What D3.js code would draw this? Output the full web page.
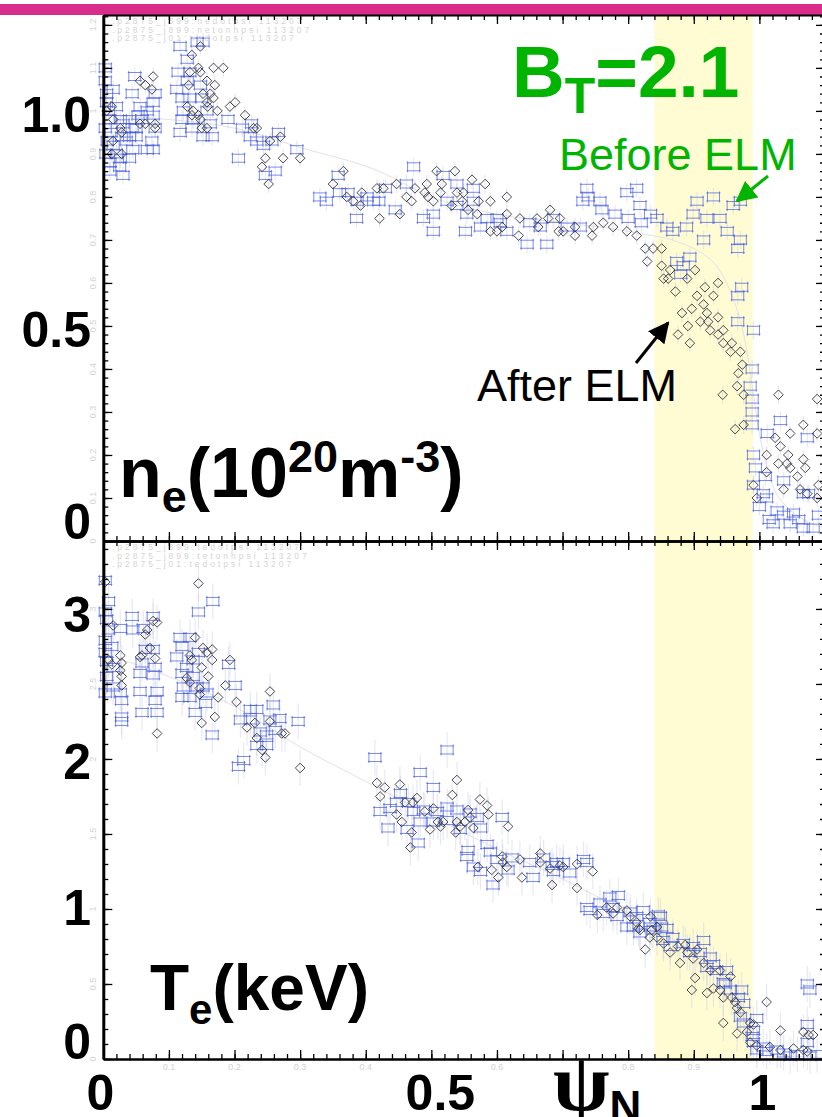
<!DOCTYPE html>
<html>
<head>
<meta charset="utf-8">
<script src="https://cdn.jsdelivr.net/npm/d3@7"></script>
<style>
  body { margin: 0; background: #fff; }
  svg { display: block; }
  text { font-family: "Liberation Sans", Arial, sans-serif; }
</style>
</head>
<body>
<div id="chart"></div>
<script>
// ---- data (psi_N, value) ----
const neBlue = [
  [0.003,1.07],[0.005,1.04],[0.015,1.05],[0.02,1.01],[0.005,1.02],[0.008,1.0],[0.01,0.98],[0.003,0.96],[0.012,0.95],[0.006,0.93],
  [0.015,0.92],[0.02,0.9],[0.01,0.88],[0.025,0.87],[0.03,0.85],[0.035,0.93],[0.04,0.94],[0.045,0.91],[0.04,0.89],[0.03,0.97],
  [0.05,0.96],[0.05,0.94],[0.04,0.98],[0.026,0.98],[0.028,0.94],[0.026,0.89],[0.01,0.86],[0.003,1.1],[0.004,0.9],
  [0.048,1.08],[0.044,1.04],[0.056,1.01],[0.053,0.99],[0.044,0.96],[0.076,1.02],[0.076,0.99],[0.079,0.96],[0.067,1.0],[0.074,0.93],
  [0.067,0.91],[0.076,0.91],[0.079,1.04],[0.059,0.98],
  [0.117,1.15],[0.143,1.16],[0.152,1.16],[0.128,1.12],[0.114,1.09],[0.132,1.09],[0.112,1.05],[0.128,1.07],[0.148,1.06],[0.12,1.03],
  [0.132,1.03],[0.122,1.0],[0.12,0.98],[0.137,0.98],[0.117,0.95],[0.135,0.96],[0.152,0.94],[0.166,0.94],[0.163,0.97],[0.158,1.0],[0.15,1.03],
  [0.19,0.98],[0.212,0.96],[0.224,0.94],[0.226,0.97],[0.234,0.93],[0.244,0.92],[0.267,0.95],[0.257,0.93],[0.206,0.89],[0.247,0.85],
  [0.262,0.86],[0.295,0.91],
  [0.33,0.8],[0.34,0.79],[0.358,0.85],[0.36,0.81],[0.373,0.81],[0.386,0.75],[0.387,0.79],[0.402,0.8],[0.412,0.79],[0.42,0.79],
  [0.43,0.82],[0.445,0.77],[0.473,0.87],[0.462,0.83],[0.488,0.75],[0.503,0.72],[0.518,0.85],[0.503,0.76],[0.524,0.79],[0.539,0.83],
  [0.539,0.78],[0.564,0.82],[0.554,0.76],[0.552,0.72],[0.575,0.73],[0.585,0.75],[0.6,0.75],[0.615,0.72],[0.605,0.74],[0.65,0.74],
  [0.646,0.69],[0.676,0.69],[0.666,0.73],[0.686,0.75],[0.707,0.73],[0.727,0.73],[0.564,0.79],
  [0.737,0.82],[0.739,0.8],[0.757,0.79],[0.731,0.79],[0.798,0.81],[0.813,0.82],[0.818,0.78],[0.834,0.76],[0.844,0.75],[0.859,0.73],
  [0.868,0.72],[0.905,0.79],[0.93,0.8],[0.899,0.76],[0.92,0.75],[0.94,0.75],[0.96,0.78],[0.971,0.79],[0.951,0.72],[0.971,0.7],
  [0.915,0.7],[0.889,0.73],[0.76,0.77],[0.78,0.76],[0.8,0.75],[0.82,0.74],
  [0.874,0.65],[0.884,0.64],[0.88,0.62],[0.894,0.66],[0.967,0.68],[0.973,0.59],[0.967,0.57],[0.967,0.51],[0.991,0.49],[0.989,0.4],
  [0.986,0.36],[0.989,0.33],[0.989,0.3],[0.989,0.27],[1.032,0.28],[1.073,0.24],[1.012,0.25],[0.991,0.2],[0.994,0.17],[1.009,0.15],
  [0.991,0.13],[1.006,0.11],[1.011,0.1],[1.027,0.07],[1.037,0.06],[1.021,0.04],[1.047,0.04],[1.067,0.11],[1.082,0.03],[1.067,0.03],
  [1.052,0.065],[1.037,0.14],[1.075,0.11],[1.0,0.08],[1.015,0.05],[1.06,0.05],[1.09,0.06]
];
const neDiam = [
  [0.056,1.07],[0.064,1.06],[0.076,1.08],[0.074,1.05],[0.079,0.97],[0.079,0.96],[0.056,0.97],[0.064,0.97],[0.013,1.01],[0.015,0.98],
  [0.026,0.96],[0.028,0.95],[0.015,0.93],[0.028,0.9],[0.013,0.9],[0.005,1.0],
  [0.148,1.15],[0.135,1.13],[0.145,1.1],[0.148,1.09],[0.132,1.09],[0.168,1.1],[0.183,1.1],[0.158,1.07],[0.17,1.06],[0.13,1.06],
  [0.152,1.04],[0.163,1.04],[0.158,1.02],[0.168,1.03],[0.159,1.01],[0.174,1.0],[0.128,1.01],[0.137,1.0],[0.135,0.99],[0.145,0.99],
  [0.148,0.98],[0.15,0.96],[0.158,0.96],
  [0.193,1.01],[0.201,1.02],[0.216,0.99],[0.234,0.96],[0.229,0.96],[0.247,0.89],[0.242,0.87],[0.252,0.83],[0.274,0.89],[0.3,0.89],
  [0.27,0.94],[0.254,0.93],
  [0.35,0.83],[0.366,0.86],[0.371,0.8],[0.381,0.79],[0.394,0.81],[0.392,0.78],[0.417,0.82],[0.427,0.82],[0.421,0.75],[0.447,0.83],
  [0.452,0.76],[0.462,0.8],[0.47,0.79],[0.475,0.82],[0.49,0.81],[0.493,0.83],[0.508,0.86],[0.495,0.8],[0.503,0.79],[0.516,0.83],
  [0.514,0.81],[0.531,0.78],[0.536,0.86],[0.539,0.81],[0.547,0.79],[0.549,0.81],[0.556,0.77],[0.562,0.84],[0.57,0.76],[0.572,0.79],
  [0.582,0.83],[0.59,0.79],[0.59,0.72],[0.6,0.72],[0.608,0.73],[0.615,0.8],[0.615,0.76],[0.633,0.71],[0.635,0.75],[0.661,0.75],
  [0.663,0.73],[0.678,0.75],[0.681,0.77],[0.696,0.75],[0.694,0.72],[0.701,0.72],[0.719,0.73],[0.719,0.71],[0.745,0.71],[0.747,0.73],
  [0.762,0.74],[0.777,0.73],[0.798,0.72],[0.813,0.71],[0.826,0.68],[0.829,0.65],[0.838,0.68],[0.851,0.68],[0.851,0.64],[0.864,0.63],
  [0.854,0.61],[0.861,0.61],[0.872,0.58],[0.89,0.61],[0.902,0.63],[0.882,0.53],[0.876,0.48],[0.894,0.46],[0.891,0.5],[0.897,0.54],
  [0.905,0.57],[0.917,0.59],[0.915,0.55],[0.93,0.57],[0.937,0.6],[0.91,0.51],[0.922,0.51],[0.925,0.49],[0.92,0.53],[0.937,0.52],
  [0.937,0.48],[0.945,0.49],[0.945,0.46],[0.958,0.46],[0.956,0.44],[0.971,0.44],[0.974,0.41],[0.968,0.39],[0.944,0.34],[0.966,0.36],
  [0.976,0.34],[0.963,0.26],[0.976,0.27],[1.029,0.34],[1.024,0.24],[1.047,0.25],[1.067,0.27],[1.088,0.33],[1.088,0.25],[1.032,0.22],
  [1.044,0.2],[1.011,0.2],[1.029,0.18],[1.042,0.18],[1.067,0.19],[1.047,0.17],[1.058,0.15],[1.07,0.17],[1.011,0.16],[0.991,0.13],
  [0.996,0.1],[1.037,0.12],[1.062,0.12],[1.073,0.11],[1.088,0.1],[1.09,0.13]
];
const teBlue = [
  [0.003,3.19],[0.008,3.05],[0.003,2.98],[0.005,2.93],[0.008,2.86],[0.003,2.79],[0.013,2.75],[0.003,2.71],[0.005,2.65],[0.015,2.61],
  [0.005,2.55],[0.015,2.48],[0.003,2.44],[0.026,2.44],[0.028,2.39],[0.028,2.28],[0.028,2.25],[0.026,2.87],[0.044,2.95],[0.045,2.86],
  [0.061,2.87],[0.076,2.95],[0.064,2.73],[0.076,2.73],[0.059,2.64],[0.056,2.57],[0.079,2.61],[0.076,2.56],[0.056,2.45],[0.082,2.45],
  [0.059,2.31],[0.082,2.31],[0.079,2.39],
  [0.117,2.81],[0.12,2.75],[0.112,2.68],[0.132,2.81],[0.145,2.98],[0.167,3.05],[0.137,2.66],[0.145,2.71],[0.127,2.61],[0.12,2.57],
  [0.137,2.55],[0.122,2.48],[0.143,2.48],[0.12,2.41],[0.132,2.41],[0.152,2.48],[0.158,2.44],[0.156,2.37],[0.14,2.31],[0.166,2.16],
  [0.191,2.63],[0.201,2.49],[0.224,2.33],[0.234,2.33],[0.209,2.26],[0.224,2.26],[0.239,2.18],[0.249,2.16],[0.259,2.36],[0.269,2.27],
  [0.254,2.26],[0.262,2.19],[0.234,2.09],[0.249,2.09],[0.297,2.25],[0.214,1.99],[0.206,1.95],
  [0.414,2.01],[0.524,2.06],[0.483,1.91],[0.503,1.81],[0.453,1.77],[0.447,1.71],[0.465,1.71],[0.422,1.65],[0.437,1.67],[0.473,1.65],
  [0.488,1.66],[0.509,1.65],[0.524,1.68],[0.539,1.66],[0.559,1.64],[0.57,1.61],[0.483,1.58],[0.503,1.58],[0.524,1.59],[0.463,1.53],
  [0.434,1.54],[0.544,1.53],[0.575,1.54],[0.48,1.44],[0.608,1.61],[0.585,1.43],[0.556,1.39],[0.554,1.35],[0.59,1.38],[0.564,1.28],
  [0.575,1.25],[0.6,1.33],[0.617,1.26],[0.594,1.16],[0.623,1.34],[0.65,1.31],[0.655,1.21],[0.671,1.34],[0.684,1.29],[0.701,1.31],
  [0.732,1.33],[0.686,1.25],[0.711,1.24],[0.691,1.31],[0.737,1.31],
  [0.737,1.01],[0.757,1.04],[0.772,1.08],[0.785,1.09],[0.762,0.97],[0.783,0.95],[0.803,0.98],[0.813,0.95],[0.823,0.99],[0.846,0.96],
  [0.798,0.88],[0.834,0.88],[0.851,0.88],[0.742,0.99],[0.777,1.01],[0.808,0.88],[0.818,0.84],[0.833,0.91],[0.849,0.95],[0.838,0.86],
  [0.859,0.87],[0.868,0.81],[0.853,0.79],[0.864,0.75],[0.884,0.77],[0.899,0.75],[0.91,0.71],[0.894,0.71],[0.915,0.79],[0.925,0.68],
  [0.93,0.63],[0.935,0.59],[0.92,0.61],[0.95,0.59],[0.945,0.51],[0.948,0.5],[0.956,0.46],[0.973,0.46],[0.968,0.41],[0.976,0.37],
  [0.971,0.28],[0.976,0.24],[0.996,0.27],[0.991,0.19],[0.989,0.15],[0.991,0.11],[0.996,0.06],[1.011,0.05],[1.037,0.04],[1.058,0.03],
  [1.077,0.02],[1.088,0.03],[1.073,0.5],[1.077,0.46],[1.073,0.23],[1.073,0.11],[1.006,0.08],[1.027,0.06],[1.047,0.02]
];
const teDiam = [
  [0.003,3.18],[0.145,3.17],[0.015,2.89],[0.076,2.92],[0.082,2.91],[0.067,2.86],[0.064,2.83],[0.14,2.81],[0.071,2.74],[0.056,2.68],
  [0.059,2.69],[0.079,2.67],[0.026,2.69],[0.028,2.64],[0.013,2.63],[0.026,2.59],[0.028,2.55],[0.028,2.49],[0.008,2.66],[0.132,2.69],
  [0.135,2.66],[0.152,2.74],[0.158,2.71],[0.166,2.73],[0.166,2.66],[0.15,2.61],[0.127,2.54],[0.132,2.51],[0.16,2.55],[0.147,2.47],
  [0.147,2.43],[0.175,2.41],[0.17,2.28],[0.15,2.24],[0.082,2.17],[0.193,2.66],[0.186,2.49],[0.203,2.38],[0.254,2.45],[0.231,2.24],
  [0.254,2.25],[0.219,2.21],[0.234,2.14],[0.242,2.06],[0.247,2.01],[0.272,2.17],[0.277,2.17],[0.3,1.94],
  [0.417,1.84],[0.429,1.81],[0.422,1.75],[0.452,1.83],[0.46,1.71],[0.472,1.71],[0.478,1.74],[0.447,1.63],[0.455,1.58],[0.47,1.51],
  [0.468,1.41],[0.49,1.65],[0.503,1.67],[0.498,1.53],[0.51,1.58],[0.518,1.58],[0.514,1.55],[0.532,1.76],[0.539,1.86],[0.539,1.58],
  [0.544,1.55],[0.537,1.51],[0.551,1.58],[0.556,1.66],[0.559,1.61],[0.564,1.54],[0.574,1.73],[0.585,1.69],[0.587,1.63],[0.617,1.55],
  [0.571,1.28],[0.592,1.26],[0.602,1.21],[0.608,1.35],[0.609,1.31],[0.615,1.28],[0.635,1.33],[0.638,1.21],[0.666,1.37],[0.666,1.31],
  [0.684,1.16],[0.681,1.27],[0.696,1.29],[0.701,1.28],[0.722,1.3],[0.722,1.14],[0.746,1.25],
  [0.753,0.96],[0.767,1.01],[0.777,0.97],[0.783,1.01],[0.798,0.99],[0.803,0.95],[0.813,0.91],[0.834,0.95],[0.818,0.86],[0.836,0.86],
  [0.844,0.88],[0.816,0.87],[0.826,0.73],[0.833,0.81],[0.844,0.81],[0.854,0.77],[0.864,0.71],[0.876,0.75],[0.879,0.64],[0.887,0.76],
  [0.89,0.71],[0.899,0.67],[0.905,0.73],[0.902,0.54],[0.897,0.46],[0.92,0.44],[0.915,0.64],[0.925,0.59],[0.93,0.47],[0.94,0.46],
  [0.945,0.41],[0.94,0.59],[0.956,0.55],[0.958,0.41],[0.963,0.38],[0.945,0.24],[0.966,0.34],[0.971,0.31],[0.966,0.17],[0.981,0.18],
  [0.986,0.24],[0.991,0.23],[0.986,0.11],[0.996,0.09],[1.011,0.38],[1.032,0.19],[1.016,0.08],[1.032,0.06],[1.052,0.07],[1.067,0.18],
  [1.075,0.16],[1.082,0.16],[1.067,0.06],[1.073,0.05]
];
const fitNe = [[0,0.99],[0.1,0.98],[0.2,0.96],[0.3,0.915],[0.42,0.86],[0.5,0.8],[0.6,0.76],[0.7,0.74],[0.8,0.72],[0.9,0.68],[0.95,0.6],[0.98,0.45],[1.0,0.25],[1.03,0.1],[1.1,0.03]];
const fitTe = [[0,2.7],[0.1,2.55],[0.2,2.35],[0.3,2.08],[0.4,1.85],[0.5,1.62],[0.6,1.4],[0.7,1.2],[0.8,0.97],[0.9,0.7],[0.95,0.5],[0.99,0.15],[1.02,0.03],[1.1,0.01]];

const neSmallTicks = [0,0.1,0.2,0.3,0.4,0.5,0.6,0.7,0.8,0.9,1.0,1.1,1.2];
const teSmallTicks = [0,0.5,1,1.5,2,2.5,3];
const xSmallTicks = [0.1,0.2,0.3,0.4,0.6,0.8,0.9];
const neBigTicks = ["1.0","0.5","0"];
const teBigTicks = ["3","2","1","0"];
const xBigTicks = ["0","0.5","1"];
const band = [0.84, 0.99];
const neHeader = [".p2875_j899:nedotpsi 113207", ".p2875_j899:netonhpsi 113207", ".p2875_j01:nedotpsi 113207"];
const teHeader = [".p2875_j899:tedotpsi 113207", ".p2875_j899:tetonhpsi 113207", ".p2875_j01:tedotpsi 113207"];

// ---- layout ----
const w = 822, h = 1117;
const x = d3.scaleLinear().domain([0, 1.1]).range([103.3, 825]);
const yNe = d3.scaleLinear().domain([0, 1.223]).range([541, 15]);
const yTe = d3.scaleLinear().domain([0, 3.453]).range([1059, 541]);

const svg = d3.select("#chart").append("svg").attr("width", w).attr("height", h);

// pink strip on top
svg.append("rect").attr("x", 0).attr("y", 4).attr("width", w).attr("height", 11).attr("fill", "#d92d8b");

// yellow band
svg.append("rect")
  .attr("x", x(band[0])).attr("y", 15)
  .attr("width", x(band[1]) - x(band[0])).attr("height", 1059 - 15)
  .attr("fill", "#fffcd3");

const blueShape = "M-7,-4H7M-7,4H7M-6,-5.5V5.5M6,-5.5V5.5";
const diamondShape = "M0,-4.8L4.8,0L0,4.8L-4.8,0Z";

function drawPanel(y, blue, diam, fit, errPx, header, headerTop) {
  const g = svg.append("g");
  g.append("path")
    .datum(fit)
    .attr("fill", "none")
    .attr("stroke", "#e1e1ea")
    .attr("stroke-width", 1)
    .attr("d", d3.line().x(d => x(d[0])).y(d => y(d[1])).curve(d3.curveMonotoneX));

  // faint vertical error bars
  g.selectAll(".eb").data(blue.concat(diam)).enter().append("line")
    .attr("x1", d => x(d[0])).attr("x2", d => x(d[0]))
    .attr("y1", d => y(d[1]) - errPx).attr("y2", d => y(d[1]) + errPx)
    .attr("stroke", "#c9cde6").attr("stroke-opacity", 0.45).attr("stroke-width", 1.2);

  g.selectAll(".b").data(blue).enter().append("path")
    .attr("transform", d => `translate(${x(d[0])},${y(d[1])})`)
    .attr("d", blueShape)
    .attr("fill", "none")
    .attr("stroke", "#3b55e0")
    .attr("stroke-opacity", 0.75)
    .attr("stroke-width", 0.9);

  g.selectAll(".d").data(diam).enter().append("path")
    .attr("transform", d => `translate(${x(d[0])},${y(d[1])})`)
    .attr("d", diamondShape)
    .attr("fill", "none")
    .attr("stroke", "#333")
    .attr("stroke-width", 0.9);

  g.selectAll(".hdr").data(header).enter().append("text")
    .attr("x", 112).attr("y", (d, i) => headerTop + i * 8.6)
    .attr("font-size", 8.5).attr("letter-spacing", 3)
    .attr("fill", "#d4d4d4")
    .text(d => d);
}

drawPanel(yNe, neBlue, neDiam, fitNe, 9, neHeader, 24);
drawPanel(yTe, teBlue, teDiam, fitTe, 18, teHeader, 550);

// ---- ticks ----
function tickAxis(axisFn, scale, transform, step, majorStep, maxV, domainWidth) {
  const vals = d3.range(0, maxV + 1e-9, step);
  const major = vals.filter(v => Math.abs(v / majorStep - Math.round(v / majorStep)) < 1e-6);
  const g = svg.append("g").attr("transform", transform);
  g.call(axisFn(scale).tickValues(vals).tickSize(5).tickSizeOuter(0).tickFormat(""));
  g.append("g").call(axisFn(scale).tickValues(major).tickSize(9).tickSizeOuter(0).tickFormat(""))
    .select(".domain").remove();
  g.selectAll(".tick line").attr("stroke", "#000").attr("stroke-width", 1.3);
  g.select(".domain").attr("stroke", "#000").attr("stroke-width", domainWidth);
}

tickAxis(d3.axisBottom, x, "translate(0,15)", 0.02, 0.1, 1.1, 2);
tickAxis(d3.axisTop, x, "translate(0,541)", 0.02, 0.1, 1.1, 2.5);
tickAxis(d3.axisBottom, x, "translate(0,541)", 0.02, 0.1, 1.1, 2.5);
tickAxis(d3.axisTop, x, "translate(0,1059)", 0.02, 0.1, 1.1, 2.5);
tickAxis(d3.axisRight, yNe, "translate(103.3,0)", 0.02, 0.1, 1.22, 3);
tickAxis(d3.axisLeft, yNe, "translate(825,0)", 0.02, 0.1, 1.22, 2);
tickAxis(d3.axisRight, yTe, "translate(103.3,0)", 0.1, 0.5, 3.45, 3);
tickAxis(d3.axisLeft, yTe, "translate(825,0)", 0.1, 0.5, 3.45, 2);

// faint small tick labels
svg.selectAll(".sne").data(neSmallTicks).enter().append("text")
  .attr("transform", d => `translate(96,${yNe(d)}) rotate(-90)`)
  .attr("text-anchor", "middle").attr("font-size", 9).attr("fill", "#d2d2d2")
  .text(d => d3.format("")(d));
svg.selectAll(".ste").data(teSmallTicks).enter().append("text")
  .attr("transform", d => `translate(96,${yTe(d)}) rotate(-90)`)
  .attr("text-anchor", "middle").attr("font-size", 9).attr("fill", "#d2d2d2")
  .text(d => d3.format("")(d));
svg.selectAll(".sx").data(xSmallTicks).enter().append("text")
  .attr("x", d => x(d)).attr("y", 1070)
  .attr("text-anchor", "middle").attr("font-size", 9).attr("fill", "#d2d2d2")
  .text(d => d3.format("")(d));

// ---- big labels ----
const bigNeOffset = [4, 4, -19];
svg.selectAll(".bne").data(neBigTicks).enter().append("text")
  .attr("x", 91).attr("y", (d, i) => yNe(+d) + bigNeOffset[i])
  .attr("text-anchor", "end").attr("dominant-baseline", "central")
  .attr("font-size", 50).attr("font-weight", "bold")
  .text(d => d);
const bigTeOffset = [6, 3, -1, -17];
svg.selectAll(".bte").data(teBigTicks).enter().append("text")
  .attr("x", 91).attr("y", (d, i) => yTe(+d) + bigTeOffset[i])
  .attr("text-anchor", "end").attr("dominant-baseline", "central")
  .attr("font-size", 50).attr("font-weight", "bold")
  .text(d => d);
const bigXOffset = [-3, 9, 3];
svg.selectAll(".bx").data(xBigTicks).enter().append("text")
  .attr("x", (d, i) => x(+d) + bigXOffset[i]).attr("y", 1110)
  .attr("text-anchor", "middle")
  .attr("font-size", 50).attr("font-weight", "bold")
  .text(d => d);

// psi_N
const psi = svg.append("text").attr("x", 553).attr("y", 1110).attr("font-weight", "bold");
psi.append("tspan").attr("font-family", "'Liberation Serif', serif").attr("font-size", 82).text("\u03C8");
psi.append("tspan").attr("font-size", 44).attr("dy", 12).text("N");

// B_T = 2.1
const bt = svg.append("text").attr("x", 512).attr("y", 97).attr("fill", "#00b400").attr("font-weight", "bold");
bt.append("tspan").attr("font-size", 73).text("B");
bt.append("tspan").attr("font-size", 50).attr("dy", 16).text("T");
bt.append("tspan").attr("font-size", 73).attr("dy", -16).text("=2.1");

// n_e(10^20 m^-3)
const ne = svg.append("text").attr("x", 119).attr("y", 497).attr("font-weight", "bold").attr("font-size", 70);
ne.append("tspan").text("n");
ne.append("tspan").attr("font-size", 45).attr("dy", 15).text("e");
ne.append("tspan").attr("dy", -15).text("(10");
ne.append("tspan").attr("font-size", 45).attr("dy", -25).text("20");
ne.append("tspan").attr("dy", 25).text("m");
ne.append("tspan").attr("font-size", 45).attr("dy", -25).text("-3");
ne.append("tspan").attr("dy", 25).text(")");

// T_e(keV)
const te = svg.append("text").attr("x", 150).attr("y", 1010).attr("font-weight", "bold").attr("font-size", 64);
te.append("tspan").text("T");
te.append("tspan").attr("font-size", 42).attr("dy", 14).text("e");
te.append("tspan").attr("dy", -14).text("(keV)");

// annotations
svg.append("text").attr("x", 559).attr("y", 170).attr("font-size", 45).attr("fill", "#00b400").text("Before ELM");
svg.append("text").attr("x", 477).attr("y", 401).attr("font-size", 45).attr("fill", "#000").text("After ELM");

const defs = svg.append("defs");
function marker(id, color) {
  defs.append("marker").attr("id", id).attr("viewBox", "0 0 10 10")
    .attr("refX", 9).attr("refY", 5).attr("markerWidth", 7).attr("markerHeight", 7)
    .attr("orient", "auto").attr("markerUnits", "strokeWidth")
    .append("path").attr("d", "M0,0L10,5L0,10Z").attr("fill", color);
}
marker("ag", "#00b400");
marker("ak", "#000");
svg.append("line").attr("x1", 768).attr("y1", 176).attr("x2", 737).attr("y2", 201)
  .attr("stroke", "#00b400").attr("stroke-width", 3).attr("marker-end", "url(#ag)");
svg.append("line").attr("x1", 636).attr("y1", 363).attr("x2", 668).attr("y2", 323)
  .attr("stroke", "#000").attr("stroke-width", 3).attr("marker-end", "url(#ak)");
</script>
</body>
</html>
